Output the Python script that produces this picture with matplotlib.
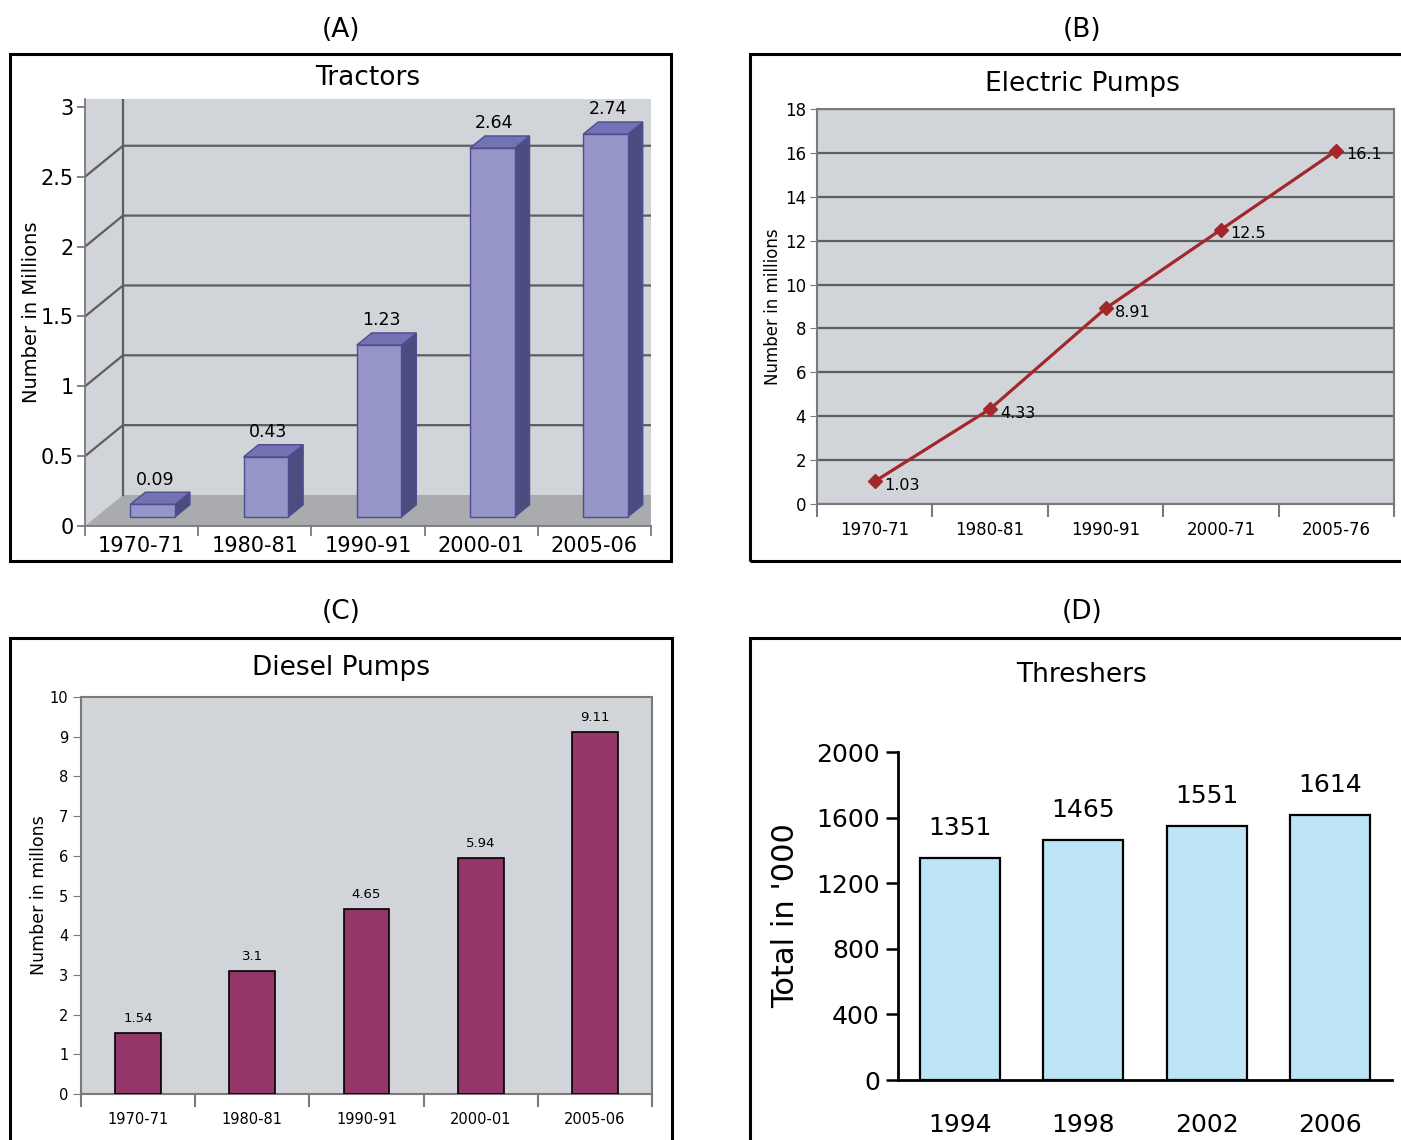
import matplotlib
matplotlib.use("Agg")
import matplotlib.pyplot as plt
from matplotlib.patches import Rectangle, Polygon

plt.rcParams['font.family'] = ['DejaVu Sans']

# ---- data ----
tractor_years = ["1970-71", "1980-81", "1990-91", "2000-01", "2005-06"]
tractor_values = [0.09, 0.43, 1.23, 2.64, 2.74]

pump_e_years = ["1970-71", "1980-81", "1990-91", "2000-71", "2005-76"]
pump_e_values = [1.03, 4.33, 8.91, 12.5, 16.1]

pump_d_years = ["1970-71", "1980-81", "1990-91", "2000-01", "2005-06"]
pump_d_values = [1.54, 3.1, 4.65, 5.94, 9.11]

thresher_years = ["1994", "1998", "2002", "2006"]
thresher_values = [1351, 1465, 1551, 1614]

W, H = 1401, 1140
fig = plt.figure(figsize=(W / 100, H / 100), dpi=100)
fig.patch.set_facecolor("white")

WALL = "#d1d4d8"
FLOOR = "#a9abaf"
GRID = "#5e5e5e"
SPINE = "#7a7a7a"


def rect(x0, y0, x1, y1):
    return [x0 / W, 1 - y1 / H, (x1 - x0) / W, (y1 - y0) / H]


def ftext(x, y, s, **kw):
    fig.text(x / W, 1 - y / H, s, ha="center", va="center", **kw)


def frame(x0, y0, x1, y1):
    fig.add_artist(Rectangle((x0 / W, 1 - y1 / H), (x1 - x0) / W, (y1 - y0) / H,
                             transform=fig.transFigure, fill=False, lw=2.2,
                             ec="black", clip_on=False))


# ---- panel frames and headers ----
frame(10, 54, 671, 561)
frame(750, 54, 1430, 561)
frame(10, 638, 672, 1170)
frame(750, 638, 1430, 1170)
for x, y, s in [(341, 30, "(A)"), (1082, 30, "(B)"), (341, 612, "(C)"), (1082, 612, "(D)")]:
    ftext(x, y, s, fontsize=19)

# ================= (A) Tractors: 3-D column chart =================
ax = fig.add_axes(rect(85, 99, 651, 526))
ytop = (526 - 99) / 139.7
ax.set_xlim(0, 5)
ax.set_ylim(0, ytop)
DX, DY = 38 / 113.2, 31 / 139.7   # depth offsets in data units
ax.add_patch(Rectangle((0, 0), 5, ytop, fc=WALL, ec="none", zorder=0))
ax.add_patch(Polygon([(0, 0), (5, 0), (5, DY), (DX, DY)], closed=True,
                     fc=FLOOR, ec="none", zorder=0.5))
for v in [0.5, 1.0, 1.5, 2.0, 2.5]:
    ax.plot([0, DX, 5], [v, v + DY, v + DY], color=GRID, lw=1.6, zorder=1)
ax.plot([DX, DX], [DY, ytop], color=GRID, lw=1.6, zorder=1)

z0, z1 = 0.29, 0.685
hw = 0.197
FRONT, TOP, SIDE, EDGE = "#9595c8", "#7272b4", "#4b4c80", "#4d4d90"
for i, h in enumerate(tractor_values):
    cx = i + 0.5
    xl, xr = cx - hw + z0 * DX, cx + hw + z0 * DX
    yb, yt = z0 * DY, h + z0 * DY
    ddx, ddy = (z1 - z0) * DX, (z1 - z0) * DY
    ax.add_patch(Polygon([(xr, yb), (xr + ddx, yb + ddy), (xr + ddx, yt + ddy), (xr, yt)],
                         closed=True, fc=SIDE, ec=EDGE, lw=1, zorder=3))
    ax.add_patch(Polygon([(xl, yt), (xr, yt), (xr + ddx, yt + ddy), (xl + ddx, yt + ddy)],
                         closed=True, fc=TOP, ec=EDGE, lw=1, zorder=3))
    ax.add_patch(Rectangle((xl, yb), xr - xl, h, fc=FRONT, ec=EDGE, lw=1, zorder=4))
    ax.text(cx + 0.35 * DX, h + z1 * DY + 0.025, f"{h:.2f}", ha="center", va="bottom",
            fontsize=12.5, zorder=5)

for s in ["top", "right"]:
    ax.spines[s].set_visible(False)
for s in ["left", "bottom"]:
    ax.spines[s].set_color(SPINE)
    ax.spines[s].set_linewidth(1.3)
ax.set_yticks([0, 0.5, 1, 1.5, 2, 2.5, 3])
ax.set_yticklabels(["0", "0.5", "1", "1.5", "2", "2.5", "3"], fontsize=15)
ax.set_xticks(range(6))
ax.set_xticklabels([])
ax.set_xticks([i + 0.5 for i in range(5)], minor=True)
ax.set_xticklabels(tractor_years, minor=True, fontsize=15)
ax.tick_params(axis="x", which="minor", length=0, pad=7)
ax.tick_params(axis="x", which="major", length=7, color=SPINE, width=1.3)
ax.tick_params(axis="y", length=6, color=SPINE, width=1.3, pad=2)
ax.set_ylabel("Number in Millions", fontsize=14, labelpad=0)
ftext(368, 78, "Tractors", fontsize=19)

# ================= (B) Electric Pumps: line chart =================
ax = fig.add_axes(rect(817, 109, 1394, 504))
ax.set_facecolor(WALL)
ax.set_xlim(0, 5)
ax.set_ylim(0, 18)
ax.set_yticks(range(0, 19, 2))
ax.tick_params(axis="y", labelsize=12, length=5, color=SPINE, pad=3)
ax.yaxis.grid(True, color=GRID, lw=1.6)
ax.set_axisbelow(True)
for s in ax.spines.values():
    s.set_color(SPINE)
    s.set_linewidth(1.5)
ax.set_xticks(range(6))
ax.set_xticklabels([])
ax.set_xticks([i + 0.5 for i in range(5)], minor=True)
ax.set_xticklabels(pump_e_years, minor=True, fontsize=12)
ax.tick_params(axis="x", which="minor", length=0, pad=12)
ax.tick_params(axis="x", which="major", length=9, color=SPINE, width=1.5)
xs = [i + 0.5 for i in range(5)]
ax.plot(xs, pump_e_values, color="#a3282c", lw=2.3, marker="D", ms=7.5,
        mec="#a3282c", mfc="#a3282c", zorder=4, clip_on=False)
for x, v in zip(xs, pump_e_values):
    ax.annotate(f"{v:g}", (x, v), xytext=(7, -3), textcoords="offset points",
                ha="left", va="center", fontsize=11.5, zorder=5)
ax.set_ylabel("Number in millions", fontsize=12, labelpad=2)
ftext(1082, 84, "Electric Pumps", fontsize=19)

# ================= (C) Diesel Pumps: column chart =================
ax = fig.add_axes(rect(81, 697, 652, 1094))
ax.set_facecolor(WALL)
ax.set_xlim(0, 5)
ax.set_ylim(0, 10)
ax.set_yticks(range(0, 11))
ax.tick_params(axis="y", labelsize=10.5, length=6, color=SPINE, pad=3)
for s in ax.spines.values():
    s.set_color(SPINE)
    s.set_linewidth(1.5)
ax.set_xticks(range(6))
ax.set_xticklabels([])
ax.set_xticks([i + 0.5 for i in range(5)], minor=True)
ax.set_xticklabels(pump_d_years, minor=True, fontsize=10.5)
ax.tick_params(axis="x", which="minor", length=0, pad=13)
ax.tick_params(axis="x", which="major", length=9, color=SPINE, width=1.5)
ax.bar([i + 0.5 for i in range(5)], pump_d_values, width=0.4, color="#94366a",
       edgecolor="black", lw=1.2, zorder=3)
for i, v in enumerate(pump_d_values):
    ax.annotate(f"{v:g}", (i + 0.5, v), xytext=(0, 6), textcoords="offset points",
                ha="center", va="bottom", fontsize=9.5)
ax.set_ylabel("Number in millons", fontsize=12.5, labelpad=1)
ftext(341, 668, "Diesel Pumps", fontsize=19)

# ================= (D) Threshers: column chart =================
ax = fig.add_axes(rect(898, 752, 1392, 1080))
ax.set_xlim(0, 4)
ax.set_ylim(0, 2000)
ax.set_yticks(range(0, 2001, 400))
ax.tick_params(axis="y", labelsize=18, length=9, width=1.8, pad=4)
for s in ["top", "right"]:
    ax.spines[s].set_visible(False)
for s in ["left", "bottom"]:
    ax.spines[s].set_linewidth(2)
ax.set_xticks([i + 0.5 for i in range(4)])
ax.set_xticklabels(thresher_years, fontsize=18)
ax.tick_params(axis="x", length=0, pad=24)
ax.bar([i + 0.5 for i in range(4)], thresher_values, width=0.65, color="#bde5f6",
       edgecolor="black", lw=1.6, zorder=3)
for i, v in enumerate(thresher_values):
    ax.annotate(f"{v}", (i + 0.5, v), xytext=(0, 13), textcoords="offset points",
                ha="center", va="bottom", fontsize=18)
ax.set_ylabel("Total in '000", fontsize=22, labelpad=12)
ftext(1082, 675, "Threshers", fontsize=19)

fig.savefig("out.png", dpi=100)
